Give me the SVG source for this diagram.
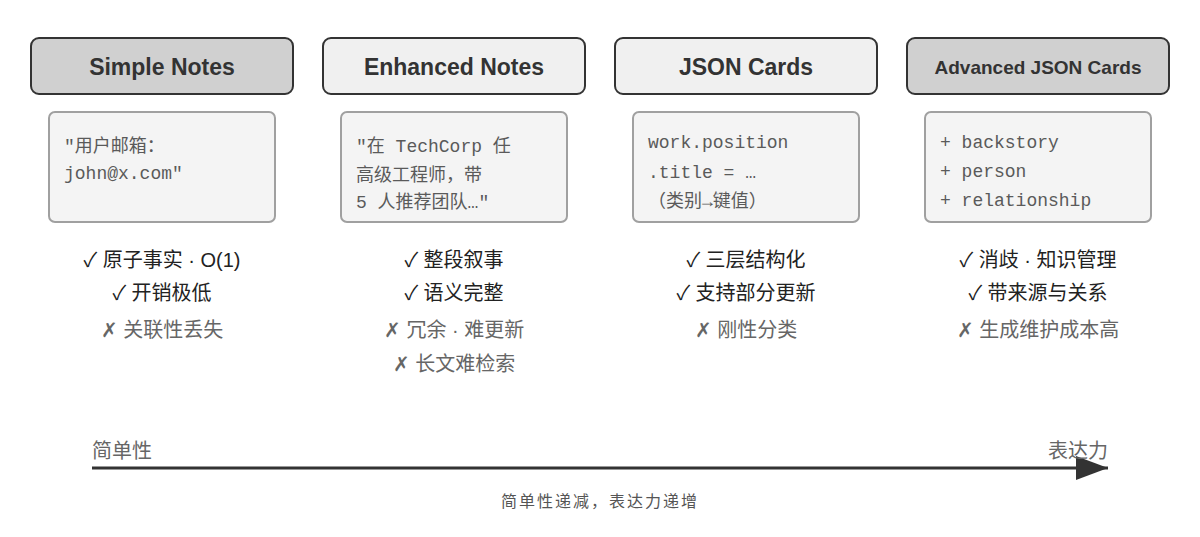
<svg xmlns="http://www.w3.org/2000/svg" width="1200" height="537" viewBox="0 0 1200 537">
<style>
.hd{stroke:#333;stroke-width:2}
.dark{fill:#d0d0d0}
.light{fill:#f0f0f0}
.ct{fill:#f4f4f4;stroke:#a0a0a0;stroke-width:2}
.title{font-family:"Liberation Sans","Noto Sans CJK SC",sans-serif;font-weight:bold;fill:#333;text-anchor:middle}
.mono{font-family:"Liberation Mono","Noto Sans CJK SC",monospace;font-size:18px;fill:#5a5a5a}
.ok{font-family:"Liberation Sans","Noto Sans CJK SC",sans-serif;font-size:20px;fill:#222;text-anchor:middle}
.no{font-family:"Liberation Sans","Noto Sans CJK SC",sans-serif;font-size:20px;fill:#666;text-anchor:middle}
.axis{font-family:"Liberation Sans","Noto Sans CJK SC",sans-serif;font-size:20px;fill:#666}
.cap{font-family:"Liberation Sans","Noto Sans CJK SC",sans-serif;font-size:16px;letter-spacing:2px;fill:#555;text-anchor:middle}
</style>
<defs>
<marker id="ah" markerWidth="32" markerHeight="24" refX="32" refY="12" orient="auto" markerUnits="userSpaceOnUse" viewBox="0 0 32 24">
<path d="M0,0 L32,12 L0,24 Z" fill="#333"/>
</marker>
</defs>
<rect width="1200" height="537" fill="#fff"/>

<g id="simple-notes">
<rect class="hd dark" x="31" y="38" width="262" height="56" rx="8"/>
<text class="title" x="162" y="75" font-size="23">Simple Notes</text>
<rect class="ct" x="49" y="112" width="226" height="110" rx="6"/>
<text class="mono" x="64" y="152">"用户邮箱：</text>
<text class="mono" x="64" y="179">john@x.com"</text>
<text class="ok" x="162" y="267">✓ 原子事实 · O(1)</text>
<text class="ok" x="162" y="300">✓ 开销极低</text>
<text class="no" x="162" y="337">✗ 关联性丢失</text>
</g>

<g id="enhanced-notes">
<rect class="hd light" x="323" y="38" width="262" height="56" rx="8"/>
<text class="title" x="454" y="75" font-size="23">Enhanced Notes</text>
<rect class="ct" x="341" y="112" width="226" height="110" rx="6"/>
<text class="mono" x="356" y="152">"在 TechCorp 任</text>
<text class="mono" x="356" y="181">高级工程师，带</text>
<text class="mono" x="356" y="208">5 人推荐团队…"</text>
<text class="ok" x="454" y="267">✓ 整段叙事</text>
<text class="ok" x="454" y="300">✓ 语义完整</text>
<text class="no" x="454" y="337">✗ 冗余 · 难更新</text>
<text class="no" x="454" y="371">✗ 长文难检索</text>
</g>

<g id="json-cards">
<rect class="hd light" x="615" y="38" width="262" height="56" rx="8"/>
<text class="title" x="746" y="75" font-size="23">JSON Cards</text>
<rect class="ct" x="633" y="112" width="226" height="110" rx="6"/>
<text class="mono" x="648" y="148">work.position</text>
<text class="mono" x="648" y="178">.title = …</text>
<text class="mono" x="648" y="207">（类别→键值）</text>
<text class="ok" x="746" y="267">✓ 三层结构化</text>
<text class="ok" x="746" y="300">✓ 支持部分更新</text>
<text class="no" x="746" y="337">✗ 刚性分类</text>
</g>

<g id="advanced-json-cards">
<rect class="hd dark" x="907" y="38" width="262" height="56" rx="8"/>
<text class="title" x="1038" y="74" font-size="19">Advanced JSON Cards</text>
<rect class="ct" x="925" y="112" width="226" height="110" rx="6"/>
<text class="mono" x="940" y="148">+ backstory</text>
<text class="mono" x="940" y="177">+ person</text>
<text class="mono" x="940" y="206">+ relationship</text>
<text class="ok" x="1038" y="267">✓ 消歧 · 知识管理</text>
<text class="ok" x="1038" y="300">✓ 带来源与关系</text>
<text class="no" x="1038" y="337">✗ 生成维护成本高</text>
</g>

<g id="connectors">
<line x1="92" y1="468" x2="1108" y2="468" stroke="#333" stroke-width="3" marker-end="url(#ah)"/>
</g>
<g id="axis-labels">
<text class="axis" x="92" y="458">简单性</text>
<text class="axis" x="1108" y="458" text-anchor="end">表达力</text>
<text class="cap" x="600" y="507">简单性递减，表达力递增</text>
</g>
</svg>
